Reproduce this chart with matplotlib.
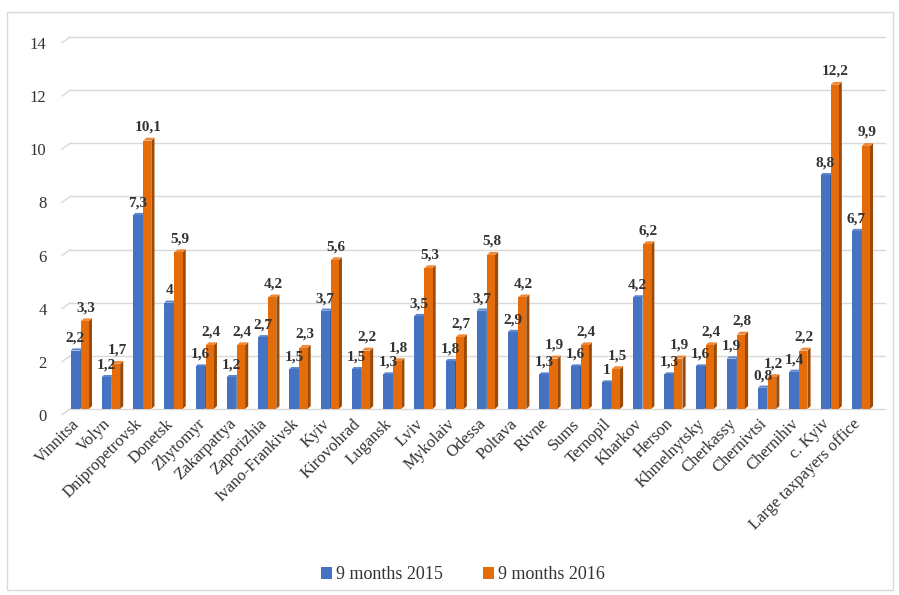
import matplotlib
matplotlib.use("Agg")
import matplotlib.pyplot as plt
from matplotlib.patches import Polygon, Rectangle
from matplotlib.transforms import ScaledTranslation
import numpy as np

regions = [
    "Vinnitsa", "Volyn", "Dnipropetrovsk", "Donetsk", "Zhytomyr", "Zakarpattya",
    "Zaporizhia", "Ivano-Frankivsk", "Kyiv", "Kirovohrad", "Lugansk", "Lviv",
    "Mykolaiv", "Odessa", "Poltava", "Rivne", "Sums", "Ternopil", "Kharkov",
    "Herson", "Khmelnytsky", "Cherkassy", "Chernivtsi", "Chernihiv", "c. Kyiv",
    "Large taxpayers office",
]
values_2015 = [2.2, 1.2, 7.3, 4, 1.6, 1.2, 2.7, 1.5, 3.7, 1.5, 1.3, 3.5, 1.8,
               3.7, 2.9, 1.3, 1.6, 1, 4.2, 1.3, 1.6, 1.9, 0.8, 1.4, 8.8, 6.7]
values_2016 = [3.3, 1.7, 10.1, 5.9, 2.4, 2.4, 4.2, 2.3, 5.6, 2.2, 1.8, 5.3, 2.7,
               5.8, 4.2, 1.9, 2.4, 1.5, 6.2, 1.9, 2.4, 2.8, 1.2, 2.2, 12.2, 9.9]
series_names = ["9 months 2015", "9 months 2016"]
y_ticks = [0, 2, 4, 6, 8, 10, 12, 14]

plt.rcParams["font.family"] = ["Liberation Serif", "DejaVu Serif"]

BLUE, BLUE_DARK = "#4573C2", "#2E5597"
ORANGE, ORANGE_DARK = "#E46C0A", "#9C4A06"
TEXT = "#333333"


def fmt(v):
    s = f"{v:g}"
    return s.replace(".", ",")


def add_side(ax, x_left, x_right, h, side, top, depth=0.1, rise=0.11):
    # darker right face and lighter top to fake the 3D look
    pts = [(x_right, 0), (x_right + depth, rise), (x_right + depth, h + rise), (x_right, h)]
    ax.add_patch(Polygon(pts, closed=True, facecolor=side, edgecolor="none", zorder=2))
    cap = [(x_left, h), (x_right, h), (x_right + depth, h + rise), (x_left + depth, h + rise)]
    ax.add_patch(Polygon(cap, closed=True, facecolor=top, edgecolor="none", zorder=2))


fig = plt.figure(figsize=(8.99, 5.95), dpi=100)
ax = fig.add_axes([0.078, 0.3126, 0.906, 0.6252])

x = np.arange(len(regions))
w1, w2 = 0.30, 0.26
off1, off2 = -0.18, 0.12

ax.bar(x + off1, values_2015, width=w1, color=BLUE, zorder=3, label=series_names[0])
ax.bar(x + off2, values_2016, width=w2, color=ORANGE, zorder=3, label=series_names[1])
for xi, h in zip(x, values_2016):
    add_side(ax, xi + off2 - w2 / 2, xi + off2 + w2 / 2, h, ORANGE_DARK, "#F08A3A")
for xi, h in zip(x, values_2015):
    add_side(ax, xi + off1 - w1 / 2, xi + off1 + w1 / 2, h, BLUE_DARK, "#5B86CF",
             depth=0.06, rise=0.08)

for xi, h in zip(x, values_2015):
    ax.annotate(fmt(h), (xi + off1, h), xytext=(0, 4), textcoords="offset points",
                ha="center", va="bottom", fontsize=11, fontweight="bold", color=TEXT,
                zorder=5)
for xi, h in zip(x, values_2016):
    ax.annotate(fmt(h), (xi + off2 + 0.03, h), xytext=(0, 5), textcoords="offset points",
                ha="center", va="bottom", fontsize=11, fontweight="bold", color=TEXT,
                zorder=5)

xl, xr = -0.35, 25.72
ax.set_xlim(xl, xr)
ax.set_ylim(0, 14)

# gridlines with a small perspective kink on the left
for v in y_ticks:
    ax.plot([xl, xr], [v, v], color="#D9D9D9", lw=1, zorder=1, clip_on=False)
    ax.plot([xl - 0.26, xl], [v - 0.22, v], color="#D9D9D9", lw=1, zorder=1, clip_on=False)

ax.set_yticks(y_ticks)
ax.set_yticklabels([str(v) for v in y_ticks], fontsize=12, color=TEXT)
ax.tick_params(axis="y", length=0, pad=17)
shift = ScaledTranslation(0, -0.06, fig.dpi_scale_trans)
for lab in ax.get_yticklabels():
    lab.set_transform(lab.get_transform() + shift)

ax.set_xticks(x - 0.3)
ax.set_xticklabels(regions, rotation=45, ha="right", rotation_mode="anchor",
                   fontsize=12, color=TEXT)
ax.tick_params(axis="x", length=0, pad=5)

for s in ax.spines.values():
    s.set_visible(False)

leg = fig.legend(loc="center", bbox_to_anchor=(0.515, 0.034), ncol=2, frameon=False,
                 fontsize=13, handlelength=0.6, handleheight=0.6, handletextpad=0.25,
                 columnspacing=2.2)
for t in leg.get_texts():
    t.set_color(TEXT)

fig.patches.append(Rectangle((0.008, 0.008), 0.985, 0.972, transform=fig.transFigure,
                             fill=False, edgecolor="#D9D9D9", lw=1))

plt.savefig("out.png", dpi=100)
